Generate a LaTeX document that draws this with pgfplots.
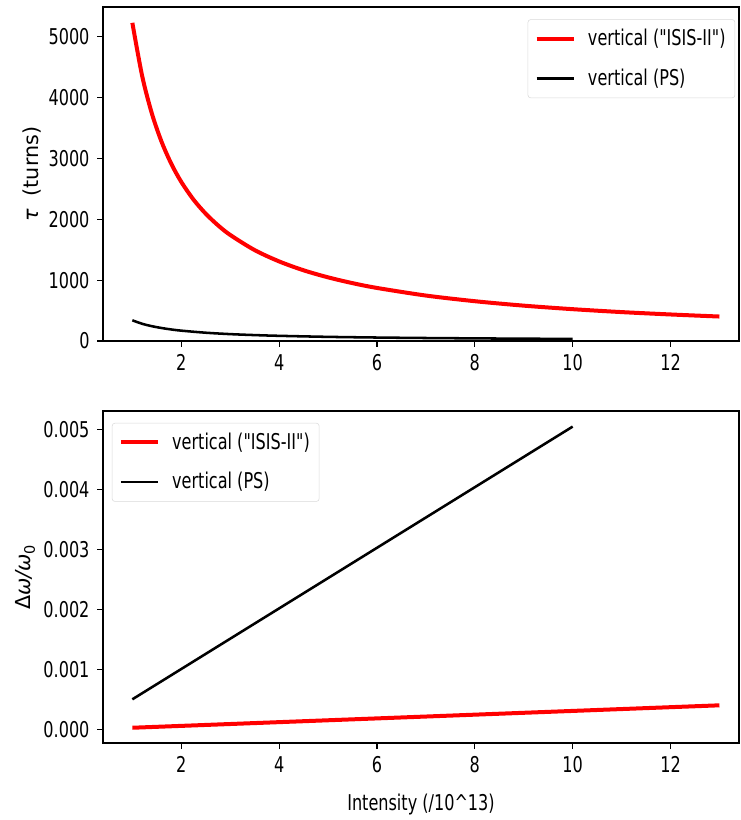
\documentclass[border=0pt]{standalone}
\usepackage{fontspec}
\setmainfont{DejaVu Sans}[FakeStretch=0.74]
\newfontfamily\legfont{DejaVu Sans}[FakeStretch=0.74]
\newfontfamily\lblfont{DejaVu Sans}
\usepackage{pgfplots}
\pgfplotsset{compat=1.18}
\begin{document}
\fontsize{16.3pt}{19pt}\selectfont
\begin{tikzpicture}
\pgfplotsset{
  every axis/.append style={
    font=\fontsize{16.3pt}{19pt}\selectfont,
    scale only axis,
    width=477pt,
    xmin=0.4, xmax=13.4,
    xtick={2,4,6,8,10,12},
    tick align=outside,
    xtick pos=bottom, ytick pos=left,
    major tick length=4.5pt,
    every tick/.style={black, line width=0.8pt},
    axis line style={line width=0.9pt},
    /pgf/number format/assume math mode=true,
    /pgf/number format/1000 sep={},
    legend cell align=left,
    legend style={draw=black!15, rounded corners=2pt, fill=white, inner sep=5pt, row sep=11pt,
      font=\legfont\fontsize{16.3pt}{19pt}\selectfont},
    legend image code/.code={\draw[#1] (0pt,0pt) -- (28pt,0pt); \path (35pt,0pt);},
  },
}
\useasboundingbox (0,0) rectangle (555pt,615pt);
\begin{axis}[
  at={(77.25pt,359.25pt)}, anchor=south west,
  height=250.5pt,
  ymin=0, ymax=5490,
  ytick={0,1000,2000,3000,4000,5000},
  ylabel={{\itshape τ}\hspace{0.6em}(turns)},
  ylabel style={font=\lblfont\fontsize{15.5pt}{18pt}\selectfont, at={(axis description cs:-0.112,0.5)}, anchor=center},
  legend style={at={(0.994,0.963)}, anchor=north east},
]
\addlegendimage{red, line width=3pt}
\addlegendentry{vertical ("ISIS-II")}
\addlegendimage{black, line width=1.9pt}
\addlegendentry{vertical (PS)}
\addplot[red, line width=3pt, smooth, forget plot] coordinates {
(1,5230) (1.2,4358) (1.4,3736) (1.6,3269) (1.8,2906) (2.0,2615) (2.25,2324) (2.5,2092)
(2.75,1902) (3,1743) (3.5,1494) (4,1308) (4.5,1162) (5,1046) (5.5,951) (6,872)
(7,747) (8,654) (9,581) (10,523) (11,475) (12,436) (13,402)};
\addplot[black, line width=1.9pt, smooth, forget plot] coordinates {
(1,340) (1.2,283) (1.4,243) (1.6,213) (1.8,189) (2,170) (2.5,136) (3,113)
(3.5,97) (4,85) (5,68) (6,57) (7,49) (8,43) (9,38) (10,34)};
\end{axis}
\begin{axis}[
  at={(77.25pt,57.75pt)}, anchor=south west,
  height=249pt,
  ymin=-0.000223, ymax=0.00531,
  ytick={0,0.001,0.002,0.003,0.004,0.005},
  scaled y ticks=false,
  yticklabel style={/pgf/number format/fixed, /pgf/number format/precision=3, /pgf/number format/zerofill},
  ylabel={Δ{\itshape ω/ω}\textsubscript{0}},
  ylabel style={font=\lblfont\fontsize{15.5pt}{18pt}\selectfont, at={(axis description cs:-0.122,0.5)}, anchor=center},
  xlabel={Intensity (/10\string^13)},
  xlabel style={at={(axis description cs:0.5,-0.184)}, anchor=center},
  legend style={at={(0.014,0.964)}, anchor=north west},
]
\addplot[red, line width=3pt] coordinates {(1,0.0000311) (13,0.000405)};
\addlegendentry{vertical ("ISIS-II")}
\addplot[black, line width=1.9pt] coordinates {(1,0.000505) (10,0.00505)};
\addlegendentry{vertical (PS)}
\end{axis}
\end{tikzpicture}
\end{document}
